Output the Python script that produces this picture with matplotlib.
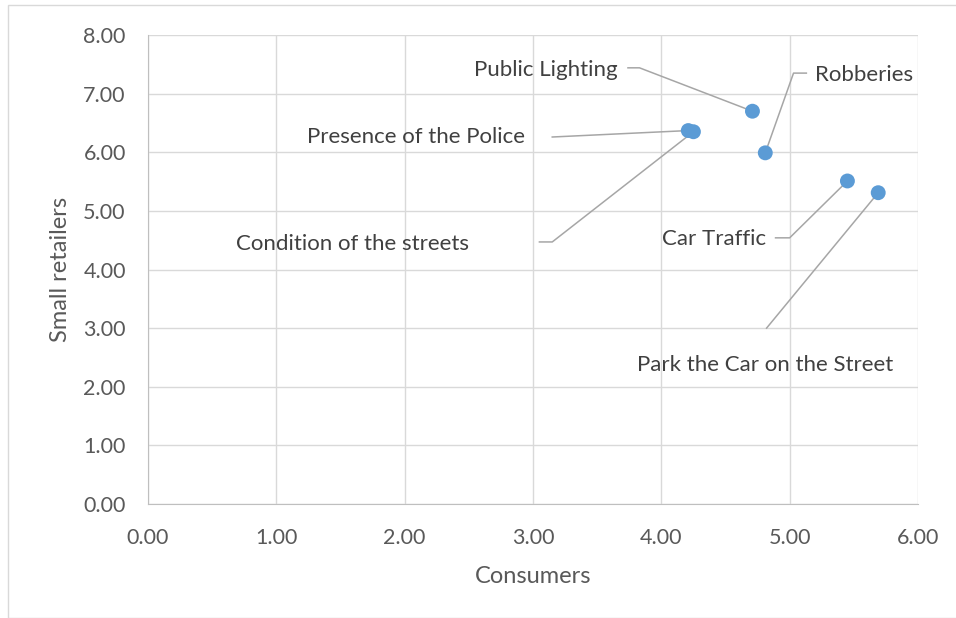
import matplotlib
matplotlib.use("Agg")
import matplotlib.pyplot as plt
from matplotlib.patches import Rectangle

plt.rcParams['font.family'] = ['Lato', 'DejaVu Sans']

names = ["Public Lighting", "Robberies", "Presence of the Police",
         "Condition of the streets", "Car Traffic", "Park the Car on the Street"]
consumers = [4.71, 4.81, 4.21, 4.25, 5.45, 5.69]
retailers = [6.70, 5.99, 6.37, 6.35, 5.51, 5.31]

# label anchor (data coords), alignment, leader start and elbow
label_x = [3.66, 5.20, 2.94, 2.50, 4.82, 4.81]
label_y = [7.40, 7.32, 6.26, 4.43, 4.52, 2.37]
label_ha = ["right", "left", "right", "right", "right", "center"]
lead_x0 = [3.74, 5.13, 3.15, 3.05, 4.89, 4.82]
lead_y0 = [7.44, 7.35, 6.26, 4.47, 4.54, 3.00]
lead_x1 = [3.83, 5.03, 3.15, 3.15, 5.00, 4.82]
lead_y1 = [7.44, 7.35, 6.26, 4.47, 4.54, 3.00]

xticks = [0, 1, 2, 3, 4, 5, 6]
yticks = [0, 1, 2, 3, 4, 5, 6, 7, 8]

fig = plt.figure(figsize=(9.56, 6.18), dpi=100)
ax = fig.add_axes([148/956, 1-504/618, (918-148)/956, (504-35)/618])

fig.patches.append(Rectangle((8/956, 0), 1.2, 1-5/618, transform=fig.transFigure,
                             fill=False, edgecolor='#d9d9d9', lw=1))

ax.set_xlim(0, 6)
ax.set_ylim(0, 8)
ax.set_xticks(xticks)
ax.set_yticks(yticks)
ax.set_xticklabels([f"{v:.2f}" for v in xticks])
ax.set_yticklabels([f"{v:.2f}" for v in yticks])
ax.grid(True, color='#d9d9d9', lw=1)
ax.set_axisbelow(True)
for s in ['top', 'right']:
    ax.spines[s].set_visible(False)
for s in ['left', 'bottom']:
    ax.spines[s].set_color('#bfbfbf')
ax.tick_params(length=0, labelsize=15.5, colors='#595959')
ax.tick_params(axis='x', pad=17)
ax.tick_params(axis='y', pad=16)

for i in range(len(names)):
    ax.plot([lead_x0[i], lead_x1[i], consumers[i]],
            [lead_y0[i], lead_y1[i], retailers[i]],
            color='#a6a6a6', lw=1.1, zorder=2)
    ax.text(label_x[i], label_y[i], names[i], ha=label_ha[i], va='center',
            fontsize=16, color='#404040')

ax.scatter(consumers, retailers, s=115, color='#5B9BD5', zorder=3, edgecolors='none')

ax.set_xlabel("Consumers", fontsize=17, color='#595959', labelpad=13)
ax.set_ylabel("Small retailers", fontsize=17, color='#595959', labelpad=9)

fig.savefig("out.png", dpi=100)
